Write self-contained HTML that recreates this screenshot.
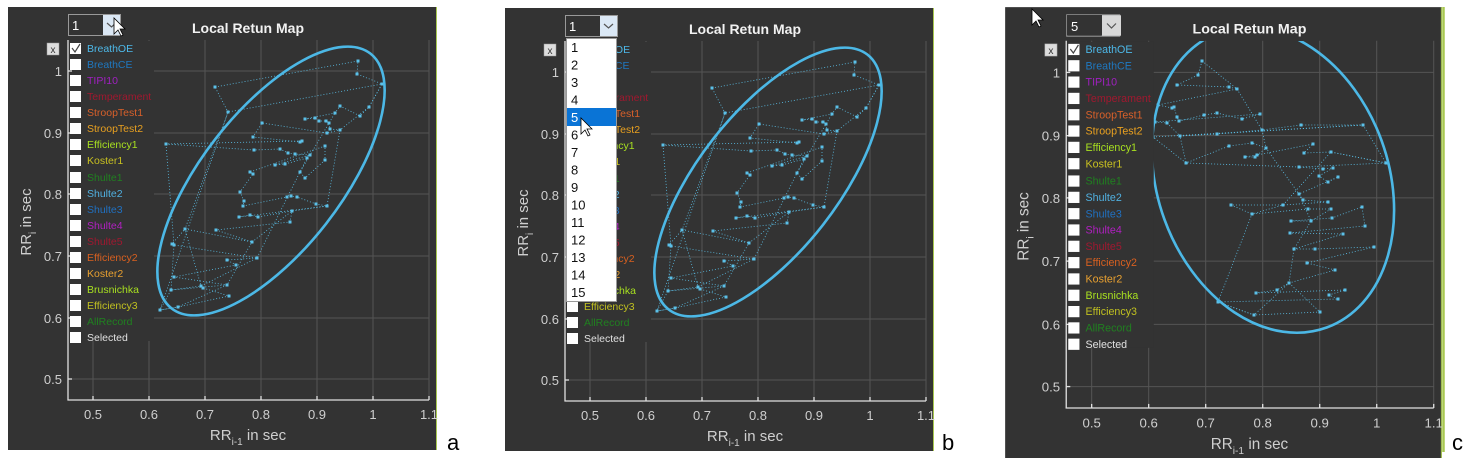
<!DOCTYPE html>
<html><head><meta charset="utf-8"><style>
html,body{margin:0;padding:0;background:#fff;}
svg{display:block;}
text{font-family:"Liberation Sans",sans-serif;}
</style></head><body>
<svg width="1473" height="458" viewBox="0 0 1473 458" xmlns="http://www.w3.org/2000/svg">
<defs>
<clipPath id="plotC"><rect x="1067" y="41" width="370" height="366"/></clipPath>
</defs>

<!-- ================= PANEL A ================= -->
<g id="pa1">
<rect x="8" y="7" width="429" height="443" fill="#333"/>
<line x1="436.5" y1="7" x2="436.5" y2="450" stroke="#a8c850" stroke-width="1"/>
<g stroke="#555" stroke-width="1">
<line x1="93" y1="40" x2="93" y2="400"/><line x1="149" y1="40" x2="149" y2="400"/><line x1="205" y1="40" x2="205" y2="400"/><line x1="261" y1="40" x2="261" y2="400"/><line x1="317" y1="40" x2="317" y2="400"/><line x1="373" y1="40" x2="373" y2="400"/><line x1="429" y1="40" x2="429" y2="400"/>
<line x1="68" y1="71" x2="429" y2="71"/><line x1="68" y1="133" x2="429" y2="133"/><line x1="68" y1="194" x2="429" y2="194"/><line x1="68" y1="256" x2="429" y2="256"/><line x1="68" y1="318" x2="429" y2="318"/><line x1="68" y1="379" x2="429" y2="379"/>
</g>
</g>
<g id="dataA">
<polyline fill="none" stroke="#5bc0e8" stroke-width="0.8" stroke-dasharray="1,2" points="215,87 358,61 357,74 382,84 369,107 360,116 340,106 335,113 305,119 315,118 319,121 326,121 329,123 330,129 340,130 327,133 262,123 253,137 300,142 302,141 166,144 254,150 280,149 288,153 295,154 310,155 275,165 285,164 307,158 300,172 305,178 325,160 325,146 250,172 253,174 240,192 244,201 243,206 287,197 291,196 297,197 316,204 327,206 239,217 250,215 258,217 292,211 290,222 216,230 252,242 185,229 172,244 174,245 257,258 227,260 236,265 174,277 227,285 171,290 201,286 203,288 229,296 178,307 160,310 228,112 215,87"/>
<polyline fill="none" stroke="#5bc0e8" stroke-width="0.8" stroke-dasharray="1,2" points="166,144 174,245 171,290 160,310 178,307 227,285 252,242 292,211 327,206 340,130 369,107 382,84 228,112 185,229 201,286 257,258 300,172 335,113"/>
<g fill="#5bc0e8">
<rect x="213.5" y="85.5" width="3" height="3"/><rect x="226.5" y="110.5" width="3" height="3"/><rect x="356.5" y="59.5" width="3" height="3"/><rect x="355.5" y="72.5" width="3" height="3"/><rect x="380.5" y="82.5" width="3" height="3"/><rect x="367.5" y="105.5" width="3" height="3"/><rect x="358.5" y="114.5" width="3" height="3"/><rect x="338.5" y="104.5" width="3" height="3"/><rect x="333.5" y="111.5" width="3" height="3"/><rect x="303.5" y="117.5" width="3" height="3"/><rect x="313.5" y="116.5" width="3" height="3"/><rect x="317.5" y="119.5" width="3" height="3"/><rect x="324.5" y="119.5" width="3" height="3"/><rect x="327.5" y="121.5" width="3" height="3"/><rect x="328.5" y="127.5" width="3" height="3"/><rect x="338.5" y="128.5" width="3" height="3"/><rect x="325.5" y="131.5" width="3" height="3"/><rect x="260.5" y="121.5" width="3" height="3"/><rect x="251.5" y="135.5" width="3" height="3"/><rect x="298.5" y="140.5" width="3" height="3"/><rect x="300.5" y="139.5" width="3" height="3"/><rect x="164.5" y="142.5" width="3" height="3"/><rect x="252.5" y="148.5" width="3" height="3"/><rect x="278.5" y="147.5" width="3" height="3"/><rect x="286.5" y="151.5" width="3" height="3"/><rect x="293.5" y="152.5" width="3" height="3"/><rect x="308.5" y="153.5" width="3" height="3"/><rect x="273.5" y="163.5" width="3" height="3"/><rect x="283.5" y="162.5" width="3" height="3"/><rect x="305.5" y="156.5" width="3" height="3"/><rect x="298.5" y="170.5" width="3" height="3"/><rect x="303.5" y="176.5" width="3" height="3"/><rect x="323.5" y="158.5" width="3" height="3"/><rect x="323.5" y="144.5" width="3" height="3"/><rect x="248.5" y="170.5" width="3" height="3"/><rect x="251.5" y="172.5" width="3" height="3"/><rect x="238.5" y="190.5" width="3" height="3"/><rect x="242.5" y="199.5" width="3" height="3"/><rect x="241.5" y="204.5" width="3" height="3"/><rect x="285.5" y="195.5" width="3" height="3"/><rect x="289.5" y="194.5" width="3" height="3"/><rect x="295.5" y="195.5" width="3" height="3"/><rect x="314.5" y="202.5" width="3" height="3"/><rect x="325.5" y="204.5" width="3" height="3"/><rect x="237.5" y="215.5" width="3" height="3"/><rect x="248.5" y="213.5" width="3" height="3"/><rect x="256.5" y="215.5" width="3" height="3"/><rect x="290.5" y="209.5" width="3" height="3"/><rect x="288.5" y="220.5" width="3" height="3"/><rect x="214.5" y="228.5" width="3" height="3"/><rect x="250.5" y="240.5" width="3" height="3"/><rect x="183.5" y="227.5" width="3" height="3"/><rect x="170.5" y="242.5" width="3" height="3"/><rect x="172.5" y="243.5" width="3" height="3"/><rect x="255.5" y="256.5" width="3" height="3"/><rect x="225.5" y="258.5" width="3" height="3"/><rect x="234.5" y="263.5" width="3" height="3"/><rect x="172.5" y="275.5" width="3" height="3"/><rect x="225.5" y="283.5" width="3" height="3"/><rect x="169.5" y="288.5" width="3" height="3"/><rect x="199.5" y="284.5" width="3" height="3"/><rect x="201.5" y="286.5" width="3" height="3"/><rect x="227.5" y="294.5" width="3" height="3"/><rect x="176.5" y="305.5" width="3" height="3"/><rect x="158.5" y="308.5" width="3" height="3"/>
</g>
<ellipse cx="271" cy="181" rx="161.6" ry="69.7" transform="rotate(-52 271 181)" fill="none" stroke="#4cb8e6" stroke-width="2.6"/>
</g>
<g id="pa2">
<rect x="69" y="41" width="85" height="300" fill="#333"/>
<g stroke="#e0e0e0" stroke-width="1.3" fill="none">
<line x1="68" y1="40" x2="68" y2="400.5"/><line x1="67.5" y1="400" x2="429" y2="400"/>
<line x1="93" y1="400" x2="93" y2="396"/><line x1="149" y1="400" x2="149" y2="396"/><line x1="205" y1="400" x2="205" y2="396"/><line x1="261" y1="400" x2="261" y2="396"/><line x1="317" y1="400" x2="317" y2="396"/><line x1="373" y1="400" x2="373" y2="396"/><line x1="429" y1="400" x2="429" y2="396"/>
<line x1="68" y1="71" x2="72" y2="71"/><line x1="68" y1="133" x2="72" y2="133"/><line x1="68" y1="194" x2="72" y2="194"/><line x1="68" y1="256" x2="72" y2="256"/><line x1="68" y1="318" x2="72" y2="318"/><line x1="68" y1="379" x2="72" y2="379"/>
</g>
<g fill="#cfcfcf" font-size="13" text-anchor="end">
<text x="62" y="76">1</text><text x="62" y="138">0.9</text><text x="62" y="199">0.8</text><text x="62" y="261">0.7</text><text x="62" y="323">0.6</text><text x="62" y="384">0.5</text>
</g>
<g fill="#cfcfcf" font-size="13" text-anchor="middle">
<text x="93" y="419">0.5</text><text x="149" y="419">0.6</text><text x="205" y="419">0.7</text><text x="261" y="419">0.8</text><text x="317" y="419">0.9</text><text x="373" y="419">1</text><text x="429" y="419">1.1</text>
</g>
<text x="248" y="33" fill="#f2f2f2" font-size="14" font-weight="bold" text-anchor="middle">Local Retun Map</text>
<text x="248" y="440" fill="#cfcfcf" font-size="15" text-anchor="middle">RR<tspan font-size="10" dy="5">i-1</tspan><tspan dy="-5"> in sec</tspan></text>
<text transform="translate(31,222) rotate(-90)" fill="#cfcfcf" font-size="15" text-anchor="middle">RR<tspan font-size="10" dy="5">i</tspan><tspan dy="-5"> in sec</tspan></text>
<rect x="47" y="43" width="12" height="12" fill="#ddd" stroke="#999" stroke-width="0.5"/>
<text x="53" y="53" fill="#333" font-size="10" text-anchor="middle">x</text>
<g fill="#fff">
<rect x="70" y="43" width="11" height="11"/><rect x="70" y="59" width="11" height="11"/><rect x="70" y="75" width="11" height="11"/><rect x="70" y="91" width="11" height="11"/><rect x="70" y="107" width="11" height="11"/><rect x="70" y="123" width="11" height="11"/><rect x="70" y="139" width="11" height="11"/><rect x="70" y="155" width="11" height="11"/><rect x="70" y="172" width="11" height="11"/><rect x="70" y="188" width="11" height="11"/><rect x="70" y="204" width="11" height="11"/><rect x="70" y="220" width="11" height="11"/><rect x="70" y="236" width="11" height="11"/><rect x="70" y="252" width="11" height="11"/><rect x="70" y="268" width="11" height="11"/><rect x="70" y="284" width="11" height="11"/><rect x="70" y="300" width="11" height="11"/><rect x="70" y="316" width="11" height="11"/><rect x="70" y="332" width="11" height="11"/>
</g>
<polyline points="72,48 75,52 80,44" fill="none" stroke="#444" stroke-width="1.2"/>
<g font-size="10.5">
<text x="87" y="52" fill="#4db8e8">BreathOE</text>
<text x="87" y="68" fill="#1f78c0">BreathCE</text>
<text x="87" y="84" fill="#a020c0">TIPI10</text>
<text x="87" y="100" fill="#a0182f">Temperament</text>
<text x="87" y="116" fill="#d8602a">StroopTest1</text>
<text x="87" y="132" fill="#e8a020">StroopTest2</text>
<text x="87" y="148" fill="#a8e020">Efficiency1</text>
<text x="87" y="164" fill="#c8c020">Koster1</text>
<text x="87" y="181" fill="#208020">Shulte1</text>
<text x="87" y="197" fill="#50b0e0">Shulte2</text>
<text x="87" y="213" fill="#2070c0">Shulte3</text>
<text x="87" y="229" fill="#b020c0">Shulte4</text>
<text x="87" y="245" fill="#a01830">Shulte5</text>
<text x="87" y="261" fill="#d86020">Efficiency2</text>
<text x="87" y="277" fill="#e8a030">Koster2</text>
<text x="87" y="293" fill="#a8e020">Brusnichka</text>
<text x="87" y="309" fill="#c0c020">Efficiency3</text>
<text x="87" y="325" fill="#208020">AllRecord</text>
<text x="87" y="341" fill="#e0e0e0">Selected</text>
</g>
<rect x="68.5" y="14.5" width="52" height="21" fill="#333" stroke="#999"/>
<rect x="103" y="15" width="17" height="20" fill="#dbe8f5"/>
<polyline points="107,23 111.5,27 116,23" fill="none" stroke="#555" stroke-width="1.2"/>
<text x="72" y="30" fill="#fff" font-size="13">1</text>
</g>
<path d="M114,18 L114,34 L118,30 L121,36 L123,35 L120,29 L125,29 Z" fill="#fff" stroke="#000" stroke-width="0.8"/>

<!-- ================= PANEL B ================= -->
<g transform="translate(497,1)">
<use href="#pa1"/>
<use href="#dataA"/>
<use href="#pa2"/>
</g>
<rect x="566.5" y="38.5" width="50" height="263" fill="#fff" stroke="#999"/>
<rect x="567" y="108" width="49" height="18" fill="#0a74d6"/>
<g font-size="13" fill="#111">
<text x="571" y="52">1</text><text x="571" y="69.5">2</text><text x="571" y="87">3</text><text x="571" y="104.5">4</text><text x="571" y="122" fill="#fff">5</text><text x="571" y="139.5">6</text><text x="571" y="157">7</text><text x="571" y="174.5">8</text><text x="571" y="192">9</text><text x="571" y="209.5">10</text><text x="571" y="227">11</text><text x="571" y="244.5">12</text><text x="571" y="262">13</text><text x="571" y="279.5">14</text><text x="571" y="297">15</text>
</g>
<path d="M581,118 L581,134 L585,130 L588,136 L590,135 L587,129 L592,129 Z" fill="#fff" stroke="#000" stroke-width="0.8"/>

<!-- ================= PANEL C ================= -->
<g transform="translate(997,0) scale(1.018,1.02)">
<use href="#pa1"/>
</g>
<line x1="1443.5" y1="7" x2="1443.5" y2="452" stroke="#a8c850" stroke-width="2.5"/>
<g clip-path="url(#plotC)">
<polyline fill="none" stroke="#5bc0e8" stroke-width="0.8" stroke-dasharray="1,2" points="1202,61 1198,75 1177,85 1229,87 1237,89 1158,105 1172,108 1174,107 1177,117 1179,121 1204,115 1217,113 1242,119 1260,114 1155,122 1167,123 1180,136 1217,134 1262,130 1301,125 1363,125 1153,137 1186,163 1229,146 1252,143 1266,148 1255,157 1245,157 1257,155 1313,144 1304,153 1331,152 1386,163 1299,167 1323,169 1333,168 1319,176 1328,182 1338,177 1299,194 1303,200 1328,202 1283,205 1231,205 1252,214 1308,209 1331,209 1311,221 1291,221 1332,218 1362,207 1365,226 1290,233 1343,234 1294,249 1315,249 1374,247 1307,263 1335,270 1289,283 1277,290 1256,293 1345,290 1329,295 1338,299 1218,302 1254,315 1320,312 1289,283"/>
<polyline fill="none" stroke="#5bc0e8" stroke-width="0.8" stroke-dasharray="1,2" points="1202,61 1237,89 1262,130 1266,148 1299,194 1311,221 1294,249 1289,283 1254,315 1218,302 1252,214 1283,205 1331,152 1386,163 1363,125 1180,136 1186,163 1299,167"/>
<g fill="#5bc0e8">
<rect x="1200.5" y="59.5" width="3" height="3"/><rect x="1196.5" y="73.5" width="3" height="3"/><rect x="1175.5" y="83.5" width="3" height="3"/><rect x="1227.5" y="85.5" width="3" height="3"/><rect x="1235.5" y="87.5" width="3" height="3"/><rect x="1156.5" y="103.5" width="3" height="3"/><rect x="1170.5" y="106.5" width="3" height="3"/><rect x="1172.5" y="105.5" width="3" height="3"/><rect x="1175.5" y="115.5" width="3" height="3"/><rect x="1177.5" y="119.5" width="3" height="3"/><rect x="1202.5" y="113.5" width="3" height="3"/><rect x="1215.5" y="111.5" width="3" height="3"/><rect x="1240.5" y="117.5" width="3" height="3"/><rect x="1258.5" y="112.5" width="3" height="3"/><rect x="1153.5" y="120.5" width="3" height="3"/><rect x="1165.5" y="121.5" width="3" height="3"/><rect x="1178.5" y="134.5" width="3" height="3"/><rect x="1215.5" y="132.5" width="3" height="3"/><rect x="1260.5" y="128.5" width="3" height="3"/><rect x="1299.5" y="123.5" width="3" height="3"/><rect x="1361.5" y="123.5" width="3" height="3"/><rect x="1151.5" y="135.5" width="3" height="3"/><rect x="1184.5" y="161.5" width="3" height="3"/><rect x="1227.5" y="144.5" width="3" height="3"/><rect x="1250.5" y="141.5" width="3" height="3"/><rect x="1264.5" y="146.5" width="3" height="3"/><rect x="1253.5" y="155.5" width="3" height="3"/><rect x="1243.5" y="155.5" width="3" height="3"/><rect x="1255.5" y="153.5" width="3" height="3"/><rect x="1311.5" y="142.5" width="3" height="3"/><rect x="1302.5" y="151.5" width="3" height="3"/><rect x="1329.5" y="150.5" width="3" height="3"/><rect x="1384.5" y="161.5" width="3" height="3"/><rect x="1297.5" y="165.5" width="3" height="3"/><rect x="1321.5" y="167.5" width="3" height="3"/><rect x="1331.5" y="166.5" width="3" height="3"/><rect x="1317.5" y="174.5" width="3" height="3"/><rect x="1326.5" y="180.5" width="3" height="3"/><rect x="1336.5" y="175.5" width="3" height="3"/><rect x="1297.5" y="192.5" width="3" height="3"/><rect x="1301.5" y="198.5" width="3" height="3"/><rect x="1326.5" y="200.5" width="3" height="3"/><rect x="1281.5" y="203.5" width="3" height="3"/><rect x="1229.5" y="203.5" width="3" height="3"/><rect x="1250.5" y="212.5" width="3" height="3"/><rect x="1306.5" y="207.5" width="3" height="3"/><rect x="1329.5" y="207.5" width="3" height="3"/><rect x="1309.5" y="219.5" width="3" height="3"/><rect x="1289.5" y="219.5" width="3" height="3"/><rect x="1330.5" y="216.5" width="3" height="3"/><rect x="1360.5" y="205.5" width="3" height="3"/><rect x="1363.5" y="224.5" width="3" height="3"/><rect x="1288.5" y="231.5" width="3" height="3"/><rect x="1341.5" y="232.5" width="3" height="3"/><rect x="1292.5" y="247.5" width="3" height="3"/><rect x="1313.5" y="247.5" width="3" height="3"/><rect x="1372.5" y="245.5" width="3" height="3"/><rect x="1305.5" y="261.5" width="3" height="3"/><rect x="1333.5" y="268.5" width="3" height="3"/><rect x="1287.5" y="281.5" width="3" height="3"/><rect x="1275.5" y="288.5" width="3" height="3"/><rect x="1254.5" y="291.5" width="3" height="3"/><rect x="1343.5" y="288.5" width="3" height="3"/><rect x="1327.5" y="293.5" width="3" height="3"/><rect x="1336.5" y="297.5" width="3" height="3"/><rect x="1216.5" y="300.5" width="3" height="3"/><rect x="1252.5" y="313.5" width="3" height="3"/><rect x="1318.5" y="310.5" width="3" height="3"/>
</g>
<ellipse cx="1273" cy="180" rx="157" ry="115.5" transform="rotate(70 1273 180)" fill="none" stroke="#4cb8e6" stroke-width="2.6"/>
</g>
<g transform="translate(997,0) scale(1.018,1.02)">
<use href="#pa2"/>
</g>
<rect x="1067" y="15" width="35" height="20" fill="#333"/>
<text x="1071" y="31" fill="#fff" font-size="13">5</text>
<rect x="1102" y="15.3" width="19" height="20.4" fill="#d8d8d8"/>
<polyline points="1107,23.5 1111.5,28 1116,23.5" fill="none" stroke="#555" stroke-width="1.2"/>
<path d="M1032,9 L1032,25 L1036,21 L1039,27 L1041,26 L1038,20 L1043,20 Z" fill="#fff" stroke="#000" stroke-width="0.8"/>

<g font-family="Liberation Serif, serif" font-size="22" fill="#000">
<text x="447" y="450">a</text>
<text x="942" y="450">b</text>
<text x="1452" y="450">c</text>
</g>
</svg>
</body></html>
